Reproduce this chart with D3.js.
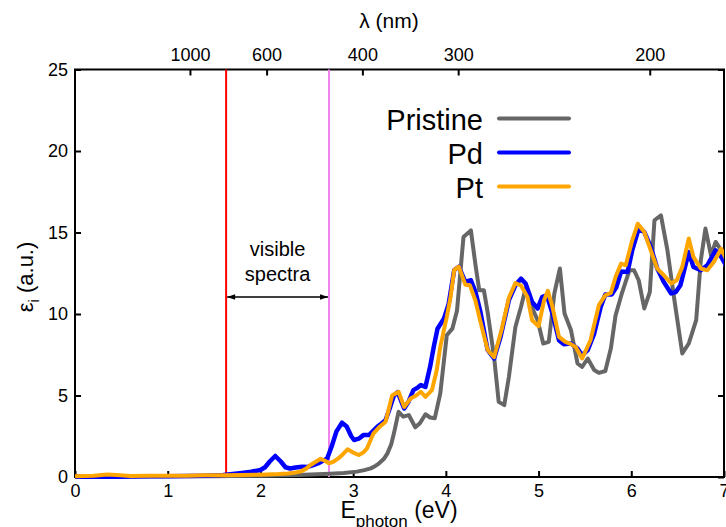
<!DOCTYPE html>
<html>
<head>
<meta charset="utf-8">
<script src="https://cdn.jsdelivr.net/npm/d3@7"></script>
<style>
  html, body { margin: 0; padding: 0; background: #fff; }
  svg { display: block; font-family: "Liberation Sans", Arial, Helvetica, sans-serif; }
</style>
</head>
<body>
<svg id="chart" width="726" height="527"></svg>
<script>
// Imaginary part of the dielectric function, eps_i(E), for the pristine and doped films.
// Each series is a list of [photon energy (eV), eps_i (a.u.)] samples.
const pristine = [
  [0, 0.03], [0.5, 0.03], [1.0, 0.04], [1.5, 0.05], [2.0, 0.08], [2.4, 0.12], [2.75, 0.2],
  [2.9, 0.25], [3.04, 0.33], [3.12, 0.42], [3.19, 0.53], [3.24, 0.68], [3.28, 0.84],
  [3.33, 1.1], [3.37, 1.45], [3.41, 2.0], [3.44, 2.68], [3.49, 4.0], [3.54, 3.7],
  [3.6, 3.8], [3.67, 3.05], [3.72, 3.3], [3.78, 3.85], [3.83, 3.65], [3.88, 3.6],
  [3.94, 5.13], [4.01, 8.7], [4.07, 9.1], [4.12, 10.2], [4.19, 14.72], [4.27, 15.13],
  [4.32, 12.99], [4.36, 11.46], [4.41, 11.46], [4.45, 10.13], [4.52, 7.37], [4.57, 4.61],
  [4.63, 4.41], [4.68, 6.15], [4.75, 9.2], [4.81, 10.43], [4.86, 11.56], [4.91, 10.64],
  [4.99, 9.62], [5.05, 8.19], [5.11, 8.29], [5.17, 11.26], [5.23, 12.79], [5.28, 10.03],
  [5.35, 9.0], [5.42, 6.97], [5.47, 6.76], [5.53, 7.27], [5.6, 6.56], [5.65, 6.39],
  [5.72, 6.5], [5.78, 7.9], [5.83, 9.9], [5.9, 11.3], [5.98, 12.68], [6.03, 12.68],
  [6.08, 12.07], [6.14, 10.34], [6.2, 11.35], [6.25, 15.75], [6.32, 16.05], [6.39, 13.9],
  [6.46, 11.05], [6.55, 7.58], [6.62, 8.19], [6.7, 9.62], [6.75, 13.3], [6.8, 15.24],
  [6.86, 13.6], [6.91, 14.42], [6.97, 13.9], [7.02, 12.9], [7.06, 12.5]
];

const pd = [
  [0, 0.02], [0.2, 0.02], [0.4, 0.0], [0.6, 0.03], [0.8, 0.04], [1.0, 0.05], [1.2, 0.06],
  [1.4, 0.08], [1.6, 0.12], [1.7, 0.18], [1.8, 0.25], [1.9, 0.32], [2.0, 0.43], [2.05, 0.6],
  [2.1, 0.95], [2.16, 1.29], [2.22, 0.95], [2.27, 0.6], [2.32, 0.52], [2.38, 0.58],
  [2.45, 0.63], [2.51, 0.62], [2.57, 0.73], [2.64, 0.88], [2.72, 1.14], [2.77, 1.9],
  [2.82, 2.8], [2.88, 3.33], [2.93, 3.1], [2.98, 2.5], [3.01, 2.27], [3.06, 2.35],
  [3.11, 2.57], [3.17, 2.57], [3.22, 2.85], [3.26, 3.08], [3.31, 3.3], [3.35, 3.49],
  [3.4, 4.3], [3.44, 5.0], [3.48, 5.2], [3.55, 4.2], [3.6, 4.65], [3.65, 5.33], [3.7, 5.5],
  [3.73, 5.64], [3.78, 5.53], [3.83, 6.76], [3.87, 8.0], [3.91, 9.1], [3.98, 9.72],
  [4.03, 10.6], [4.09, 12.7], [4.14, 12.9], [4.21, 11.97], [4.27, 12.07], [4.32, 11.35],
  [4.37, 10.2], [4.45, 7.8], [4.52, 7.27], [4.59, 8.6], [4.68, 10.85], [4.75, 11.76],
  [4.81, 12.17], [4.86, 11.87], [4.93, 10.74], [4.99, 10.34], [5.04, 11.05], [5.09, 11.15],
  [5.15, 10.03], [5.22, 8.39], [5.27, 8.15], [5.35, 8.19], [5.42, 7.88], [5.47, 7.47],
  [5.53, 7.78], [5.6, 8.8], [5.67, 10.43], [5.72, 11.2], [5.79, 11.2], [5.84, 11.66],
  [5.89, 12.6], [5.96, 12.58], [6.01, 13.9], [6.08, 15.24], [6.14, 15.03], [6.21, 14.11],
  [6.28, 12.79], [6.35, 11.97], [6.43, 11.26], [6.48, 11.35], [6.53, 11.76], [6.62, 13.8],
  [6.67, 12.89], [6.75, 12.68], [6.82, 12.99], [6.91, 13.9], [6.97, 13.5], [7.02, 13.0],
  [7.06, 12.6]
];

const pt = [
  [0, 0.05], [0.2, 0.08], [0.35, 0.15], [0.45, 0.12], [0.6, 0.06], [0.8, 0.07], [1.0, 0.07],
  [1.2, 0.08], [1.4, 0.1], [1.6, 0.1], [1.8, 0.12], [2.0, 0.14], [2.2, 0.18], [2.3, 0.22],
  [2.38, 0.28], [2.43, 0.33], [2.49, 0.5], [2.54, 0.74], [2.6, 0.95], [2.65, 1.12],
  [2.7, 0.98], [2.74, 0.84], [2.79, 0.95], [2.84, 1.14], [2.89, 1.4], [2.94, 1.7],
  [3.0, 1.5], [3.06, 1.35], [3.11, 1.5], [3.15, 1.76], [3.22, 2.68], [3.29, 3.1],
  [3.35, 3.39], [3.42, 5.0], [3.49, 5.23], [3.55, 4.3], [3.62, 4.82], [3.68, 5.0],
  [3.73, 5.23], [3.78, 4.92], [3.85, 5.33], [3.9, 6.5], [3.94, 7.98], [4.01, 9.82],
  [4.05, 11.0], [4.09, 12.7], [4.14, 12.9], [4.21, 11.8], [4.26, 11.76], [4.32, 10.8],
  [4.37, 9.6], [4.45, 7.8], [4.52, 7.35], [4.6, 9.0], [4.68, 11.0], [4.75, 11.9],
  [4.81, 11.75], [4.88, 11.05], [4.93, 9.62], [5.0, 9.25], [5.06, 10.85], [5.1, 11.42],
  [5.15, 10.43], [5.22, 8.6], [5.29, 8.29], [5.35, 8.15], [5.4, 7.98], [5.47, 7.27],
  [5.56, 8.39], [5.65, 10.54], [5.72, 11.15], [5.78, 11.3], [5.83, 12.27], [5.89, 13.09],
  [5.94, 12.99], [6.01, 14.52], [6.07, 15.54], [6.14, 15.03], [6.21, 13.9], [6.28, 12.79],
  [6.35, 12.38], [6.43, 11.87], [6.49, 12.07], [6.55, 12.89], [6.62, 14.63], [6.67, 13.5],
  [6.75, 12.79], [6.82, 12.68], [6.89, 13.19], [6.97, 14.0], [7.02, 13.4], [7.06, 13.0]
];

const seriesNames = ["Pristine", "Pd", "Pt"];
const seriesColors = ["#666666", "#0000ff", "#ffa500"];
const seriesData = [pristine, pd, pt];

const energyTicks = [0, 1, 2, 3, 4, 5, 6, 7];
const epsTicks = [0, 5, 10, 15, 20, 25];
const lambdaTicks = [1000, 600, 400, 300, 200];   // nm
const visibleRange = [1.63, 2.74];                  // eV, red and violet limits
const HC = 1239.84;                                 // eV*nm

const svg = d3.select("#chart");
const plotL = 75, plotR = 724, plotT = 69.5, plotB = 477;

const x = d3.scaleLinear().domain([0, 7]).range([plotL, plotR]);
const y = d3.scaleLinear().domain([0, 25]).range([plotB, plotT]);

const defs = svg.append("defs");
// clip for the curves
defs.append("clipPath").attr("id", "plotClip")
  .append("rect").attr("x", plotL).attr("y", plotT - 2)
  .attr("width", plotR - plotL).attr("height", plotB - plotT + 4);

function styleAxis(g) {
  g.select(".domain").remove();
  g.selectAll(".tick line").attr("stroke", "#000").attr("stroke-width", 2);
  g.selectAll(".tick text").attr("fill", "#000")
    .style("font-family", '"Liberation Sans", Arial, sans-serif').style("font-size", "18px");
}

// axes with inward ticks
svg.append("g").attr("transform", `translate(0,${plotB})`)
  .call(d3.axisBottom(x).tickValues(energyTicks).tickFormat(d3.format("d")).tickSize(-6).tickPadding(7))
  .call(styleAxis);

svg.append("g").attr("transform", `translate(${plotL},0)`)
  .call(d3.axisLeft(y).tickValues(epsTicks).tickFormat(d3.format("d")).tickSize(-6).tickPadding(7))
  .call(styleAxis);

svg.append("g").attr("transform", `translate(${plotR},0)`)
  .call(d3.axisRight(y).tickValues(epsTicks).tickFormat("").tickSize(-6))
  .call(styleAxis);

svg.append("g").attr("transform", `translate(0,${plotT})`)
  .call(d3.axisTop(x).tickValues(lambdaTicks.map(l => HC / l)).tickFormat((d, i) => lambdaTicks[i]).tickSize(-6).tickPadding(9))
  .call(styleAxis);

// frame
svg.append("rect")
  .attr("x", plotL).attr("y", plotT).attr("width", plotR - plotL).attr("height", plotB - plotT)
  .attr("fill", "none").attr("stroke", "#000").attr("stroke-width", 2);

// visible-range markers
svg.append("line")
  .attr("x1", x(visibleRange[0])).attr("x2", x(visibleRange[0]))
  .attr("y1", plotT).attr("y2", plotB)
  .attr("stroke", "#ff0000").attr("stroke-width", 2);
svg.append("line")
  .attr("x1", x(visibleRange[1])).attr("x2", x(visibleRange[1]))
  .attr("y1", plotT).attr("y2", plotB)
  .attr("stroke", "#ee82ee").attr("stroke-width", 2);

// curves
const line = d3.line().x(d => x(d[0])).y(d => y(d[1]));
const curves = svg.append("g").attr("clip-path", "url(#plotClip)");
seriesData.forEach((data, i) => {
  curves.append("path")
    .datum(data)
    .attr("d", line)
    .attr("fill", "none")
    .attr("stroke", seriesColors[i])
    .attr("stroke-width", i === 1 ? 4.5 : 4)
    .attr("stroke-linejoin", "round")
    .attr("stroke-linecap", "round");
});

// double-headed arrow spanning the visible range
["arrowEnd", "arrowStart"].forEach((id, k) => {
  defs.append("marker").attr("id", id)
    .attr("viewBox", "0 0 10 10").attr("refX", 10).attr("refY", 5)
    .attr("markerWidth", 10).attr("markerHeight", 8)
    .attr("markerUnits", "userSpaceOnUse")
    .attr("orient", k === 0 ? "auto" : "auto-start-reverse")
    .append("path").attr("d", "M0,1.5 L10,5 L0,8.5 Z").attr("fill", "#000");
});
const arrowY = 297;
svg.append("line")
  .attr("x1", x(visibleRange[0]) + 1).attr("x2", x(visibleRange[1]) - 1)
  .attr("y1", arrowY).attr("y2", arrowY)
  .attr("stroke", "#000").attr("stroke-width", 1.5)
  .attr("marker-end", "url(#arrowEnd)").attr("marker-start", "url(#arrowStart)");

const midX = (x(visibleRange[0]) + x(visibleRange[1])) / 2;
svg.append("text").attr("x", midX).attr("y", 256).attr("text-anchor", "middle")
  .style("font-size", "20px").text("visible");
svg.append("text").attr("x", midX).attr("y", 281).attr("text-anchor", "middle")
  .style("font-size", "20px").text("spectra");

// legend
const legend = svg.append("g");
seriesNames.forEach((name, i) => {
  const ly = 118.5 + i * 34;
  legend.append("text").attr("x", 483).attr("y", ly + 11.5).attr("text-anchor", "end")
    .style("font-size", "29px").text(name);
  legend.append("line").attr("x1", 499).attr("x2", 569).attr("y1", ly).attr("y2", ly)
    .attr("stroke", seriesColors[i]).attr("stroke-width", 4).attr("stroke-linecap", "round");
});

// axis titles
const xt = svg.append("text").attr("x", 399).attr("y", 518).attr("text-anchor", "middle")
  .style("font-size", "23px");
xt.append("tspan").text("E");
xt.append("tspan").attr("dy", 9).style("font-size", "17px").text("photon");
xt.append("tspan").attr("dy", -9).text(" (eV)");

svg.append("text").attr("x", 389).attr("y", 28).attr("text-anchor", "middle")
  .style("font-size", "21px").text("λ (nm)");

const yt = svg.append("text")
  .attr("transform", "translate(33,277) rotate(-90)")
  .attr("text-anchor", "middle").style("font-size", "22px");
yt.append("tspan").text("ε");
yt.append("tspan").attr("dy", 6).style("font-size", "15px").text("i");
yt.append("tspan").attr("dy", -6).text(" (a.u.)");
</script>
</body>
</html>
